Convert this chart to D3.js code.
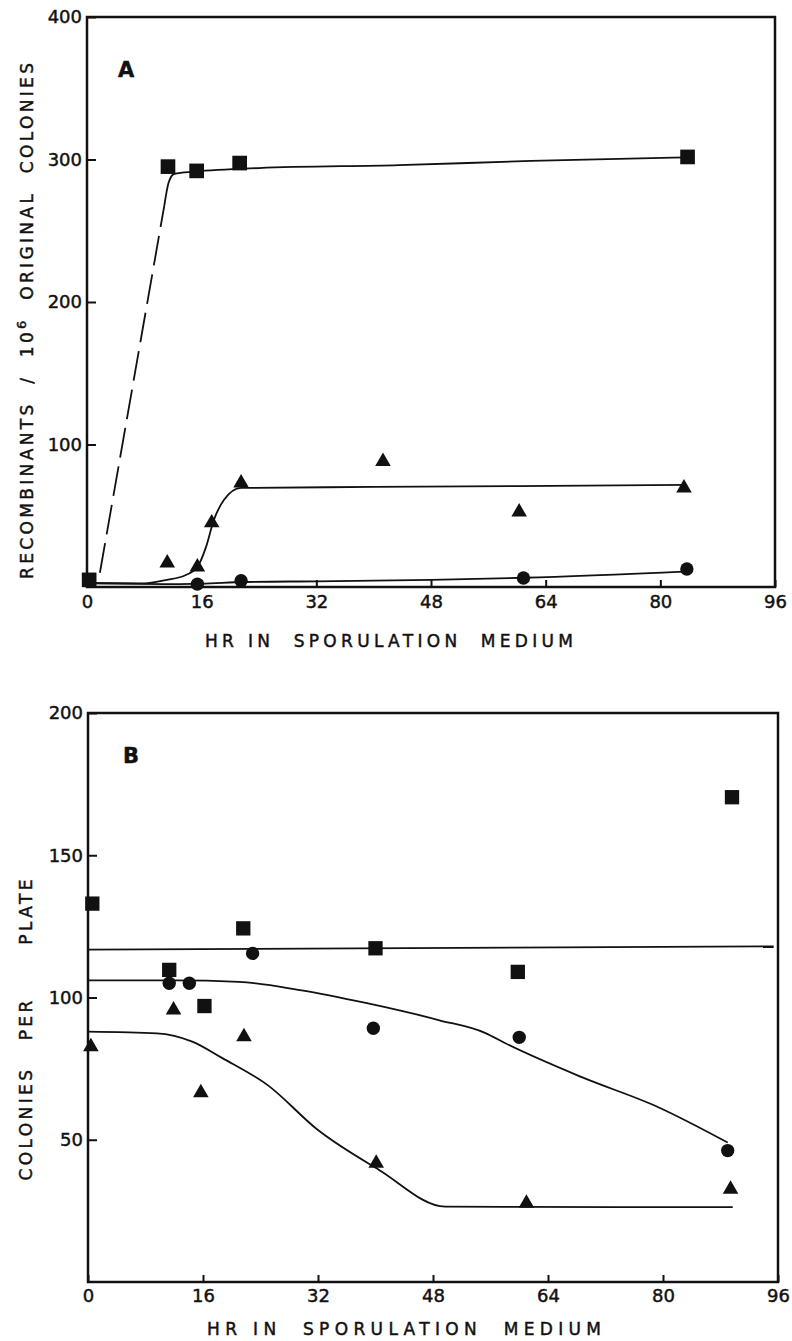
<!DOCTYPE html>
<html>
<head>
<meta charset="utf-8">
<script src="https://cdn.jsdelivr.net/npm/d3@7"></script>
<style>
  body { margin: 0; background: #fff; }
  text { font-family: "DejaVu Sans", "Liberation Sans", Arial, sans-serif; fill: #111; stroke: #111; stroke-width: 0.45px; }
</style>
</head>
<body>
<svg class="chart"></svg>
<script>
// shared ticks
const hourTicks = [0, 16, 32, 48, 64, 80, 96];
const aValueTicks = [100, 200, 300, 400];
const bValueTicks = [50, 100, 150, 200];

// panel A: [hours, recombinants per 10^6 original colonies]
const aSquares = [[0.3, 5], [11.3, 295], [15.3, 292], [21.3, 297.5], [83.8, 301.8]];
const aTriangles = [[11.2, 16.8], [15.4, 14], [17.4, 45], [21.5, 73], [41.3, 88], [60.3, 52.6], [83.3, 69.5]];
const aCircles = [[15.4, 2], [21.5, 4.4], [60.9, 6.3], [83.7, 12.6]];
const aSquareRise = [[1.8, 10], [10.8, 268]];
const aSquareFit = [[10.8, 268], [11.4, 284], [12.2, 290], [15, 291.5], [24, 294], [43.5, 296], [62, 299], [84, 301.5]];
const aTriangleFit = [[0, 2.8], [8, 2.5], [11, 4.9], [13.8, 8.4], [15.4, 14], [16.6, 28], [17.7, 47], [19.1, 61], [21.5, 69.5], [40, 70.2], [60, 70.8], [83.4, 71.6]];
const aCircleFit = [[0, 2.5], [12, 2], [16, 2.3], [22, 3.5], [32, 4], [48, 5], [61, 6.5], [84, 11]];

// panel B: [hours, colonies per plate]
const bSquares = [[0.6, 133], [11.3, 109.7], [16.2, 97], [21.6, 124.3], [40, 117.3], [59.8, 109], [89.6, 170.4]];
const bCircles = [[11.3, 105], [14.1, 105], [22.9, 115.5], [39.7, 89.2], [60, 86], [89, 46.2]];
const bTriangles = [[0.4, 82.7], [11.9, 95.6], [15.7, 66.5], [21.7, 86.2], [40.1, 41.7], [61, 27.7], [89.4, 32.6]];
const bSquareFit = [[0, 116.8], [95.4, 118]];
const bCircleFit = [[0, 106], [12, 106], [21, 105.5], [29.5, 102.6], [38.8, 98], [48.9, 92], [55.3, 87.5], [58, 84], [68.7, 72], [79.2, 61.6], [89, 49]];
const bTriangleFit = [[0, 88], [9.6, 87.4], [14.5, 84.5], [18.7, 78.7], [25, 69.2], [32, 53.4], [40.5, 39.4], [49.7, 26.5], [60, 26.4], [89.7, 26.3]];

const width = 792;
const height = 1341;

const svg = d3.select(".chart")
    .attr("width", width)
    .attr("height", height);

function panel(p) {
    const x = d3.scaleLinear().domain([0, 96]).range([p.left, p.right]);
    const y = d3.scaleLinear().domain([0, p.yMax]).range([p.bottom, p.top]);
    const g = svg.append("g");

    const xAxis = g.append("g")
        .attr("transform", `translate(0,${p.bottom})`)
        .call(d3.axisBottom(x).tickValues(hourTicks).tickSize(-7).tickPadding(p.xPad));
    const yAxis = g.append("g")
        .attr("transform", `translate(${p.left},0)`)
        .call(d3.axisLeft(y).tickValues(p.yTicks).tickSize(-9).tickPadding(5));
    [xAxis, yAxis].forEach(a => {
        a.select(".domain").remove();
        a.selectAll("line").attr("stroke", "#111").attr("stroke-width", 2);
        a.selectAll("text").attr("font-size", 18).attr("fill", "#111")
            .style("font-family", '"DejaVu Sans", "Liberation Sans", Arial, sans-serif');
    });

    g.append("rect")
        .attr("x", p.left).attr("y", p.top)
        .attr("width", p.right - p.left).attr("height", p.bottom - p.top)
        .attr("fill", "none").attr("stroke", "#111").attr("stroke-width", 2.5);

    const line = d3.line().x(d => x(d[0])).y(d => y(d[1])).curve(d3.curveMonotoneX);
    p.fits.forEach(f => {
        g.append("path")
            .attr("d", line(f.data))
            .attr("fill", "none").attr("stroke", "#111").attr("stroke-width", 1.8)
            .attr("stroke-dasharray", f.dash || null);
    });

    p.marks.forEach(m => {
        g.selectAll(null)
            .data(m.data)
            .enter().append("path")
            .attr("transform", d => `translate(${x(d[0])},${y(d[1])})`)
            .attr("d", d3.symbol().type(m.type).size(m.size))
            .attr("fill", "#111");
    });

    g.append("text")
        .attr("x", p.letterX).attr("y", p.letterY)
        .attr("font-size", 21).attr("font-weight", "bold")
        .text(p.letter);

    g.append("text")
        .attr("x", p.xTitleX).attr("y", p.xTitleY)
        .attr("text-anchor", "middle")
        .attr("font-size", 17)
        .attr("textLength", p.xTitleLen).attr("lengthAdjust", "spacing")
        .style("white-space", "pre")
        .text("HR IN  SPORULATION  MEDIUM");

    const yt = g.append("text")
        .attr("transform", `translate(${p.yTitleX},${p.yTitleY}) rotate(-90)`)
        .attr("text-anchor", "middle")
        .attr("font-size", 17)
        .attr("textLength", p.yTitleLen).attr("lengthAdjust", "spacing")
        .style("white-space", "pre");
    p.yTitle.forEach(part => {
        yt.append("tspan")
            .attr("dy", part.dy || 0)
            .attr("font-size", part.sup ? 13 : null)
            .text(part.t);
    });
}

panel({
    left: 87, right: 775, top: 17, bottom: 587, yMax: 400,
    yTicks: aValueTicks, xPad: 8,
    letter: "A", letterX: 118, letterY: 77,
    xTitleX: 389, xTitleY: 647, xTitleLen: 368,
    yTitle: [{t: "RECOMBINANTS  /  10"}, {t: "6", sup: true, dy: -7}, {t: "  ORIGINAL  COLONIES", dy: 7}],
    yTitleX: 33, yTitleY: 321, yTitleLen: 516,
    fits: [
        {data: aSquareRise, dash: "30,9"},
        {data: aSquareFit},
        {data: aTriangleFit},
        {data: aCircleFit}
    ],
    marks: [
        {data: aSquares, type: d3.symbolSquare, size: 215},
        {data: aTriangles, type: d3.symbolTriangle, size: 105},
        {data: aCircles, type: d3.symbolCircle, size: 140}
    ]
});

panel({
    left: 88, right: 778, top: 713, bottom: 1282, yMax: 200,
    yTicks: bValueTicks, xPad: 7,
    letter: "B", letterX: 123, letterY: 763,
    xTitleX: 404, xTitleY: 1335, xTitleLen: 394,
    yTitle: [{t: "COLONIES   PER      PLATE"}],
    yTitleX: 32, yTitleY: 1030, yTitleLen: 301,
    fits: [
        {data: bSquareFit},
        {data: bCircleFit},
        {data: bTriangleFit}
    ],
    marks: [
        {data: bSquares, type: d3.symbolSquare, size: 205},
        {data: bCircles, type: d3.symbolCircle, size: 140},
        {data: bTriangles, type: d3.symbolTriangle, size: 105}
    ]
});
</script>
</body>
</html>
